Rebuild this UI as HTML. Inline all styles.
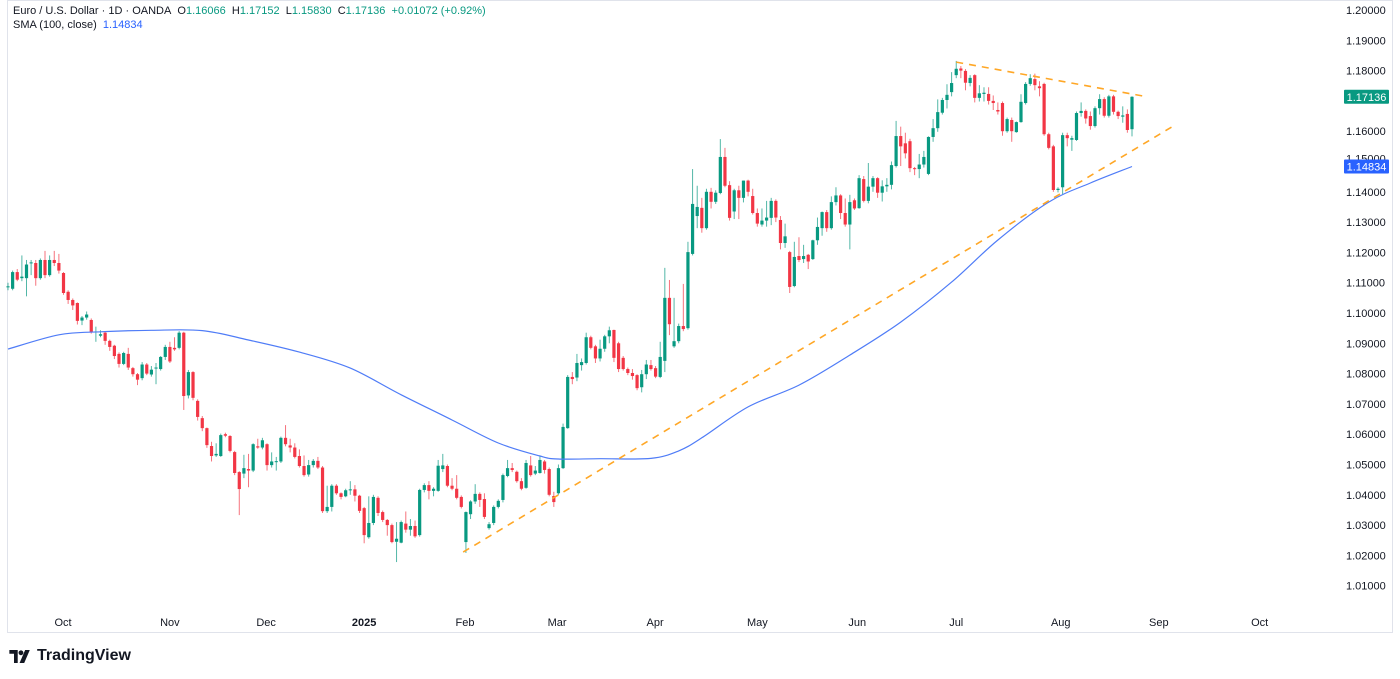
<!DOCTYPE html>
<html><head><meta charset="utf-8">
<style>
html,body{margin:0;padding:0;background:#fff;width:1400px;height:679px;overflow:hidden;font-family:"Liberation Sans",sans-serif;}
#chart{position:absolute;left:0;top:0;}
.hdr{position:absolute;left:13px;font-size:11px;color:#131722;white-space:nowrap;}
.g{color:#089981}.b{color:#2962ff}
</style></head>
<body>
<svg id="chart" width="1400" height="679">
  <rect x="7.5" y="0.5" width="1385" height="632" fill="none" stroke="#e0e3eb"/>
  <g id="grid"></g><g id="candles"></g><g id="overlay"></g><g id="axes"></g>
</svg>
<div class="hdr" style="top:5px">Euro / U.S. Dollar · 1D · OANDA&nbsp; O<span class="g">1.16066</span>&nbsp; H<span class="g">1.17152</span>&nbsp; L<span class="g">1.15830</span>&nbsp; C<span class="g">1.17136</span>&nbsp; <span class="g">+0.01072 (+0.92%)</span></div>
<div class="hdr" style="top:19px">SMA (100, close)&nbsp; <span class="b">1.14834</span></div>
<div style="position:absolute;left:9px;top:647px;display:flex;align-items:center;font-weight:bold;font-size:16px;color:#131722;">
<svg width="23" height="13" viewBox="0 0 24 14"><path d="M0 0h9v14H5V4H0z" fill="#131722"/><circle cx="12.5" cy="3" r="2.6" fill="#131722"/><path d="M17 0h5l-6 14h-5z" fill="#131722"/></svg>
<span style="margin-left:5px">TradingView</span></div>
<script>
const opens=[1.1085,1.108,1.1135,1.1115,1.1115,1.1165,1.1165,1.1115,1.1175,1.1125,1.1175,1.1165,1.1132,1.107,1.1043,1.1033,1.0975,1.0985,1.0977,1.0938,1.0925,1.0935,1.0908,1.0892,1.0865,1.0832,1.0865,1.0818,1.0798,1.0785,1.083,1.0797,1.0817,1.0815,1.0855,1.0888,1.0885,1.0885,1.0935,1.0728,1.0805,1.071,1.0653,1.062,1.0561,1.053,1.0528,1.06,1.0594,1.0541,1.0475,1.047,1.0485,1.048,1.056,1.0556,1.0567,1.0498,1.051,1.051,1.0588,1.0563,1.0556,1.0528,1.0495,1.0467,1.0498,1.0512,1.049,1.0346,1.036,1.043,1.0405,1.0395,1.0415,1.0418,1.0397,1.0356,1.026,1.0307,1.039,1.0343,1.0317,1.03,1.0245,1.0242,1.0305,1.0285,1.0297,1.0267,1.0416,1.0432,1.0413,1.0413,1.0485,1.0495,1.043,1.042,1.0393,1.0244,1.0336,1.0378,1.0403,1.0386,1.029,1.0307,1.036,1.0383,1.0462,1.0488,1.0476,1.0445,1.0423,1.0497,1.047,1.0472,1.051,1.0485,1.0396,1.0405,1.0488,1.062,1.0789,1.0787,1.0828,1.0835,1.092,1.089,1.085,1.0882,1.0923,1.0944,1.09,1.0852,1.0815,1.0802,1.0795,1.0755,1.0798,1.0828,1.0818,1.0789,1.0842,1.105,1.089,1.0907,1.0957,1.095,1.1195,1.132,1.1347,1.128,1.140,1.1367,1.1396,1.1515,1.1422,1.1335,1.1405,1.138,1.1437,1.1386,1.133,1.1292,1.1305,1.1314,1.137,1.1307,1.1231,1.1201,1.1089,1.1188,1.1178,1.1192,1.1178,1.124,1.128,1.1333,1.128,1.1366,1.1388,1.133,1.1292,1.1372,1.1346,1.1442,1.137,1.1417,1.1445,1.1397,1.1418,1.1423,1.1485,1.1584,1.156,1.1567,1.1478,1.1475,1.149,1.1459,1.1581,1.161,1.1661,1.1703,1.1729,1.1785,1.1807,1.1799,1.1759,1.1785,1.171,1.1723,1.1723,1.170,1.167,1.1693,1.16,1.1637,1.1597,1.163,1.1693,1.1756,1.1772,1.1748,1.1756,1.159,1.155,1.1406,1.1415,1.1587,1.1572,1.1571,1.166,1.1667,1.165,1.1617,1.1676,1.1706,1.1651,1.1715,1.1664,1.1648,1.1657,1.16066];
const highs=[1.110,1.114,1.1145,1.119,1.1175,1.1175,1.1175,1.118,1.1205,1.119,1.1205,1.1195,1.1135,1.1075,1.1048,1.1035,1.099,1.1005,1.0982,1.0955,1.0943,1.0938,1.0912,1.0895,1.087,1.0872,1.0885,1.0822,1.0802,1.0838,1.0835,1.0825,1.0835,1.0858,1.0895,1.0905,1.092,1.094,1.0938,1.0812,1.0808,1.0715,1.066,1.0622,1.0575,1.057,1.0602,1.0605,1.0597,1.0545,1.0478,1.0532,1.0535,1.057,1.0585,1.0588,1.057,1.054,1.0525,1.0592,1.063,1.0585,1.057,1.055,1.053,1.0515,1.0518,1.0525,1.0495,1.043,1.0435,1.0435,1.0408,1.042,1.0445,1.0432,1.04,1.036,1.0395,1.04,1.0395,1.0348,1.032,1.0305,1.031,1.0315,1.0345,1.032,1.0315,1.042,1.0438,1.0445,1.0425,1.0515,1.0535,1.050,1.0455,1.0465,1.0398,1.0345,1.0382,1.0435,1.0408,1.0405,1.031,1.0365,1.0385,1.047,1.0515,1.0505,1.048,1.0455,1.0515,1.0528,1.0495,1.053,1.0515,1.049,1.041,1.050,1.0635,1.0795,1.0805,1.0865,1.085,1.0935,1.0925,1.0895,1.0912,1.0928,1.0955,1.0945,1.0905,1.0858,1.082,1.0815,1.0798,1.0812,1.0845,1.0845,1.0825,1.0905,1.1149,1.1109,1.105,1.0965,1.1096,1.1235,1.1475,1.142,1.138,1.141,1.1413,1.1405,1.1574,1.1545,1.1435,1.141,1.142,1.1437,1.144,1.141,1.1345,1.1345,1.137,1.138,1.1375,1.132,1.1295,1.1205,1.1235,1.125,1.1225,1.1195,1.1242,1.1315,1.1335,1.134,1.1385,1.1415,1.1392,1.1378,1.139,1.1378,1.1455,1.1452,1.1495,1.1452,1.1448,1.1438,1.1445,1.150,1.1634,1.1615,1.1595,1.1575,1.1482,1.1525,1.1535,1.1583,1.164,1.1705,1.171,1.1755,1.1795,1.1832,1.1815,1.1805,1.1785,1.1788,1.1752,1.1745,1.1745,1.1718,1.1695,1.1698,1.1645,1.1645,1.1632,1.1722,1.1762,1.1788,1.179,1.1765,1.176,1.1595,1.1555,1.1415,1.1595,1.1595,1.1585,1.1665,1.1695,1.1672,1.1665,1.1682,1.1722,1.1712,1.172,1.172,1.1668,1.1682,1.1672,1.17152];
const lows=[1.1075,1.1075,1.1105,1.1105,1.1055,1.1125,1.109,1.111,1.1115,1.112,1.1155,1.113,1.106,1.103,1.101,1.0962,1.096,1.0978,1.0932,1.0905,1.092,1.0895,1.0875,1.0848,1.082,1.0828,1.0812,1.079,1.0762,1.0778,1.0795,1.079,1.0765,1.081,1.0845,1.0835,1.0875,1.088,1.068,1.0718,1.0712,1.0645,1.061,1.0555,1.051,1.0525,1.0525,1.059,1.054,1.0465,1.0333,1.0455,1.0425,1.0475,1.0552,1.055,1.048,1.049,1.048,1.0505,1.056,1.054,1.052,1.049,1.046,1.046,1.049,1.0485,1.034,1.034,1.0345,1.04,1.0385,1.0392,1.04,1.0378,1.034,1.024,1.0255,1.030,1.033,1.031,1.0265,1.024,1.0178,1.024,1.0275,1.0265,1.0258,1.0262,1.0408,1.0385,1.0395,1.041,1.0475,1.0425,1.0415,1.0385,1.0355,1.0208,1.032,1.037,1.036,1.032,1.0285,1.030,1.0355,1.0375,1.0458,1.0475,1.044,1.0415,1.042,1.046,1.0465,1.047,1.047,1.0395,1.036,1.040,1.0485,1.0618,1.0765,1.0775,1.081,1.083,1.088,1.0835,1.084,1.0872,1.090,1.0838,1.0805,1.081,1.0795,1.078,1.0745,1.0738,1.0782,1.081,1.0785,1.0785,1.0805,1.0927,1.0885,1.09,1.094,1.0945,1.119,1.128,1.1265,1.1275,1.1345,1.136,1.1392,1.1415,1.1305,1.131,1.131,1.1365,1.1385,1.1325,1.1285,1.1285,1.1285,1.129,1.130,1.121,1.1215,1.1066,1.1085,1.1168,1.1165,1.1145,1.1175,1.1225,1.1255,1.1268,1.1275,1.1355,1.131,1.1285,1.121,1.134,1.1344,1.1365,1.1362,1.140,1.138,1.1368,1.140,1.1408,1.148,1.1485,1.151,1.1465,1.1455,1.1445,1.148,1.1455,1.1565,1.1598,1.1655,1.1675,1.1715,1.1775,1.1775,1.1735,1.1748,1.1695,1.1698,1.1698,1.1688,1.167,1.1655,1.1585,1.1595,1.1565,1.1595,1.1628,1.1688,1.175,1.1735,1.1715,1.1585,1.154,1.140,1.1398,1.1392,1.155,1.1535,1.1568,1.1648,1.1625,1.1605,1.1612,1.1655,1.1645,1.1645,1.1655,1.164,1.1628,1.1595,1.1583];
const closes=[1.1088,1.1135,1.111,1.112,1.116,1.1167,1.1115,1.1175,1.1125,1.1175,1.1165,1.114,1.1066,1.1043,1.1025,1.0974,1.0985,1.0995,1.0937,1.0939,1.093,1.0908,1.0888,1.0858,1.0832,1.0868,1.082,1.0798,1.078,1.083,1.080,1.0813,1.082,1.0855,1.0888,1.084,1.088,1.0935,1.0726,1.0805,1.072,1.0657,1.062,1.0564,1.0528,1.0535,1.0597,1.0595,1.0545,1.0472,1.0419,1.0488,1.048,1.0567,1.0556,1.058,1.0498,1.051,1.0511,1.0588,1.0567,1.0556,1.0525,1.0495,1.0465,1.0498,1.0512,1.049,1.0346,1.036,1.043,1.0405,1.0393,1.0415,1.0418,1.0397,1.0347,1.0267,1.0307,1.0393,1.034,1.0317,1.030,1.0244,1.0255,1.031,1.0285,1.0297,1.0263,1.0416,1.0432,1.0413,1.042,1.0496,1.0497,1.043,1.042,1.039,1.036,1.0343,1.0378,1.0403,1.0383,1.0327,1.0303,1.036,1.038,1.0465,1.0488,1.0482,1.0445,1.042,1.0505,1.0465,1.048,1.0515,1.0482,1.040,1.0376,1.0488,1.0624,1.0789,1.0782,1.0835,1.0838,1.092,1.0885,1.085,1.0882,1.0923,1.0943,1.0852,1.0815,1.0815,1.0802,1.0792,1.0752,1.0798,1.083,1.0815,1.079,1.0855,1.105,1.0963,1.0907,1.0957,1.0947,1.1201,1.136,1.135,1.128,1.140,1.1367,1.1397,1.1515,1.142,1.1314,1.1405,1.138,1.1437,1.140,1.133,1.1295,1.1305,1.1315,1.137,1.1315,1.1231,1.1253,1.1086,1.1185,1.1175,1.1188,1.117,1.124,1.1284,1.1333,1.128,1.1366,1.1388,1.133,1.1292,1.1366,1.1345,1.1445,1.137,1.1417,1.1445,1.1397,1.1418,1.1423,1.1488,1.1584,1.155,1.1527,1.1478,1.1475,1.149,1.1515,1.1581,1.161,1.1663,1.1703,1.172,1.1759,1.1806,1.180,1.176,1.1776,1.171,1.1725,1.1727,1.170,1.1693,1.1665,1.16,1.164,1.16,1.163,1.1697,1.1756,1.1775,1.1752,1.1742,1.159,1.1545,1.1406,1.141,1.1587,1.1577,1.1577,1.166,1.1667,1.1642,1.1617,1.1676,1.1706,1.1651,1.1715,1.1664,1.165,1.1652,1.1604,1.17136];
// SMA(100) at bar indices
const smaBars=[0,11,20,31,42,52,63,74,85,96,106,115,119,128,139,145,150,160,171,182,193,204,214,225,234,243];
const smaVals=[1.0881,1.0928,1.0938,1.0943,1.0942,1.0911,1.0871,1.0818,1.0730,1.0647,1.0571,1.0528,1.0518,1.0519,1.0520,1.0545,1.0588,1.0690,1.0762,1.0861,1.0970,1.1102,1.1241,1.1366,1.1429,1.14834];
// trendlines [bar, price]
const lowerTrend=[[98.4,1.0211],[251.6,1.1614]];
const upperTrend=[[205,1.1828],[245.4,1.1716]];
const priceTicks=[1.20,1.19,1.18,1.16,1.14,1.13,1.12,1.11,1.10,1.09,1.08,1.07,1.06,1.05,1.04,1.03,1.02,1.01];
const monthLabels=["Oct","Nov","Dec","2025","Feb","Mar","Apr","May","Jun","Jul","Aug","Sep","Oct"];
const monthBars=[11.9,35,55.8,77,98.8,118.7,139.9,162,183.6,205,227.6,248.8,270.6];

const NS="http://www.w3.org/2000/svg";
const X0=8, STEP=(1132-8)/243;
function xs(i){return X0+i*STEP;}
function ys(v){return 10+(1.20-v)*3030;}
function mk(tag,attrs,parent){const e=document.createElementNS(NS,tag);for(const k in attrs)e.setAttribute(k,attrs[k]);parent.appendChild(e);return e;}
const cg=document.getElementById('candles');
for(let i=0;i<closes.length;i++){
  const up=closes[i]>=opens[i], col=up?'#089981':'#f23645', x=xs(i);
  const g=mk('g',{},cg);
  
  
  mk('line',{x1:x,x2:x,y1:ys(highs[i]),y2:ys(lows[i]),stroke:col,'stroke-width':1,'stroke-opacity':0.7},g);
  const t=ys(Math.max(opens[i],closes[i])), b=ys(Math.min(opens[i],closes[i]));
  mk('rect',{x:x-1.6,y:t,width:3.2,height:Math.max(1,b-t),fill:col},g);
}
const ov=document.getElementById('overlay');
const pts=smaBars.map((b,k)=>[xs(b),ys(smaVals[k])]);
let d='M'+pts[0][0].toFixed(1)+' '+pts[0][1].toFixed(1);
for(let k=0;k<pts.length-1;k++){
  const p0=pts[Math.max(0,k-1)],p1=pts[k],p2=pts[k+1],p3=pts[Math.min(pts.length-1,k+2)];
  const c1=[p1[0]+(p2[0]-p0[0])/6,p1[1]+(p2[1]-p0[1])/6],c2=[p2[0]-(p3[0]-p1[0])/6,p2[1]-(p3[1]-p1[1])/6];
  d+='C'+c1[0].toFixed(1)+' '+c1[1].toFixed(1)+' '+c2[0].toFixed(1)+' '+c2[1].toFixed(1)+' '+p2[0].toFixed(1)+' '+p2[1].toFixed(1);
}
const sma=mk('path',{d:d,fill:'none',stroke:'#4f7cf7','stroke-width':1.2},ov);


[[lowerTrend,'support-trendline'],[upperTrend,'resistance-trendline']].forEach(([t,n])=>{
  const l=mk('line',{x1:xs(t[0][0]),y1:ys(t[0][1]),x2:xs(t[1][0]),y2:ys(t[1][1]),stroke:'#ffa726','stroke-width':1.6,'stroke-dasharray':'7 6'},ov);
  
  
});
const ax=document.getElementById('axes');
priceTicks.forEach(v=>{
  const t=mk('text',{x:1346,y:ys(v)+4,'font-size':11,fill:'#131722','font-family':'Liberation Sans, sans-serif'},ax);
  t.textContent=v.toFixed(5);
  
  
});
const lt=mk('text',{x:1346,y:ys(1.15)+1,'font-size':11,fill:'#131722','font-family':'Liberation Sans, sans-serif'},ax);lt.textContent='1.15000';


monthLabels.forEach((m,k)=>{
  const t=mk('text',{x:xs(monthBars[k]),y:626,'font-size':11,fill:'#131722','text-anchor':'middle','font-weight':m==='2025'?'bold':'normal','font-family':'Liberation Sans, sans-serif'},ax);
  t.textContent=m;
  
  
});
function badge(v,col,name){
  const y=ys(v);
  const g=mk('g',{},ax);
  
  
  mk('rect',{x:1344,y:y-7,width:45,height:14,fill:col,rx:1},g);
  const t=mk('text',{x:1366.5,y:y+4,'font-size':11,fill:'#fff','text-anchor':'middle','font-family':'Liberation Sans, sans-serif'},g);
  t.textContent=v.toFixed(5);
}
badge(closes[closes.length-1],'#089981','last-price-badge');
badge(smaVals[smaVals.length-1],'#2962ff','sma-price-badge');
</script>
</body></html>
